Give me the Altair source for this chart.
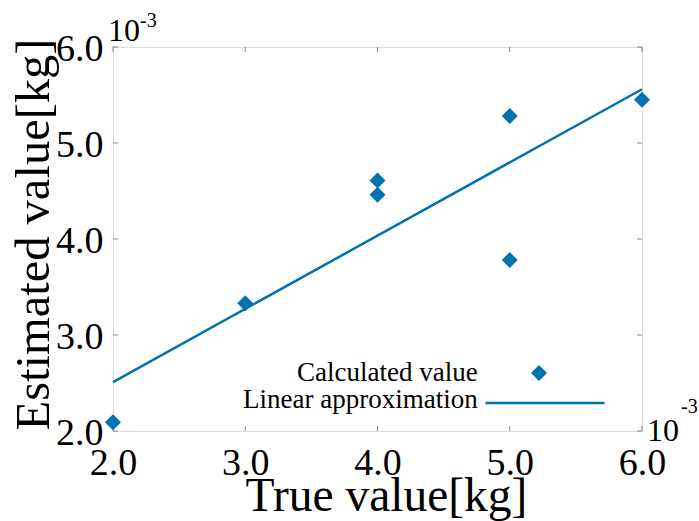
import altair as alt
import pandas as pd

# data
true_vals = [2.0, 3.0, 4.0, 4.0, 5.0, 5.0, 6.0]
est_vals = [2.09, 3.33, 4.61, 4.46, 5.28, 3.78, 5.45]
line_x = [2.0, 6.0]
line_y = [2.51, 5.56]
tick_vals = [2.0, 3.0, 4.0, 5.0, 6.0]
point_label = "Calculated value"
line_label = "Linear approximation"

BLUE = "#0072b2"
FONT = "Liberation Serif"
W, H = 529, 384

pts = pd.DataFrame({"x": true_vals, "y": est_vals, "series": [point_label] * len(true_vals)})
fit = pd.DataFrame({"x": line_x, "y": line_y, "fit": [line_label] * len(line_x)})
ticks = pd.DataFrame({"v": tick_vals})

xscale = alt.Scale(domain=[2, 6], nice=False, zero=False)
yscale = alt.Scale(domain=[2, 6], nice=False, zero=False)

xaxis = alt.Axis(values=tick_vals, format=".1f", ticks=False, domain=False, grid=False,
                 labelPadding=13, labelFlush=False, labelFontSize=38, labelFont=FONT,
                 labelColor="black", title="True value[kg]", titleFont=FONT,
                 titleFontSize=47.5, titleFontWeight="normal", titleColor="black",
                 titleX=273, titleY=79, titleBaseline="alphabetic")
yaxis = alt.Axis(values=tick_vals, format=".1f", ticks=False, domain=False, grid=False,
                 labelPadding=10, labelFlush=False, labelFontSize=38, labelFont=FONT,
                 labelOffset=2, labelColor="black", title="Estimated value[kg]",
                 titleFont=FONT, titleFontSize=48.5, titleFontWeight="normal",
                 titleColor="black", titleX=-65, titleY=187, titleBaseline="alphabetic")

legend_common = dict(orient="none", padding=0, titleOrient="left", titleFont=FONT,
                     titleFontSize=27, titleFontWeight="normal", titleColor="black",
                     titleLimit=600, labelFontSize=1, labelOpacity=0, labelOffset=0)

line = alt.Chart(fit).mark_line(strokeWidth=2.5).encode(
    x=alt.X("x:Q", scale=xscale, axis=xaxis),
    y=alt.Y("y:Q", scale=yscale, axis=yaxis),
    color=alt.Color("fit:N", scale=alt.Scale(range=[BLUE]),
                    legend=alt.Legend(title=line_label, legendX=130, legendY=295,
                                      titlePadding=6, titleAnchor="end",
                                      titleBaseline="alphabetic",
                                      symbolType="stroke", symbolSize=14161,
                                      symbolStrokeWidth=2.5, symbolStrokeColor=BLUE,
                                      **legend_common)),
)

points = alt.Chart(pts).mark_point(filled=True, size=256, opacity=1, color=BLUE).encode(
    x=alt.X("x:Q", scale=xscale),
    y=alt.Y("y:Q", scale=yscale),
    shape=alt.Shape("series:N", scale=alt.Scale(range=["diamond"]),
                    legend=alt.Legend(title=point_label, legendX=184, legendY=318,
                                      titlePadding=53, titleAnchor="middle",
                                      titleBaseline="middle",
                                      symbolSize=256, symbolFillColor=BLUE,
                                      symbolStrokeWidth=0, symbolOpacity=1,
                                      **legend_common)),
)

tick_style = dict(color="#555555", thickness=1, size=5)
top_ticks = alt.Chart(ticks).mark_tick(orient="vertical", **tick_style).encode(
    x=alt.X("v:Q", scale=xscale), y=alt.value(2.5))
bot_ticks = alt.Chart(ticks).mark_tick(orient="vertical", **tick_style).encode(
    x=alt.X("v:Q", scale=xscale), y=alt.value(H - 2.5))
left_ticks = alt.Chart(ticks).mark_tick(orient="horizontal", **tick_style).encode(
    y=alt.Y("v:Q", scale=yscale), x=alt.value(2.5))
right_ticks = alt.Chart(ticks).mark_tick(orient="horizontal", **tick_style).encode(
    y=alt.Y("v:Q", scale=yscale), x=alt.value(W - 2.5))


def label(txt, x, y, size):
    return alt.Chart(pd.DataFrame({"t": [txt]})).mark_text(
        font=FONT, fontSize=size, align="left", baseline="alphabetic", color="black"
    ).encode(text="t:N", x=alt.value(x), y=alt.value(y))


texts = [
    label("10", -5, -6, 32), label("-3", 27, -20, 20),
    label("10", 534, 394, 32), label("-3", 568, 366, 20),
]

chart = alt.layer(line, points, top_ticks, bot_ticks, left_ticks, right_ticks, *texts).resolve_legend(
    color="independent", shape="independent"
).properties(
    width=W, height=H,
    autosize=alt.AutoSizeParams(type="none"),
    padding={"left": 113, "top": 47, "right": 57, "bottom": 90},
).configure_view(stroke="#222222", strokeWidth=1.5).configure(font=FONT)

chart.save("out.html", embed_options={"renderer": "svg", "actions": False})
